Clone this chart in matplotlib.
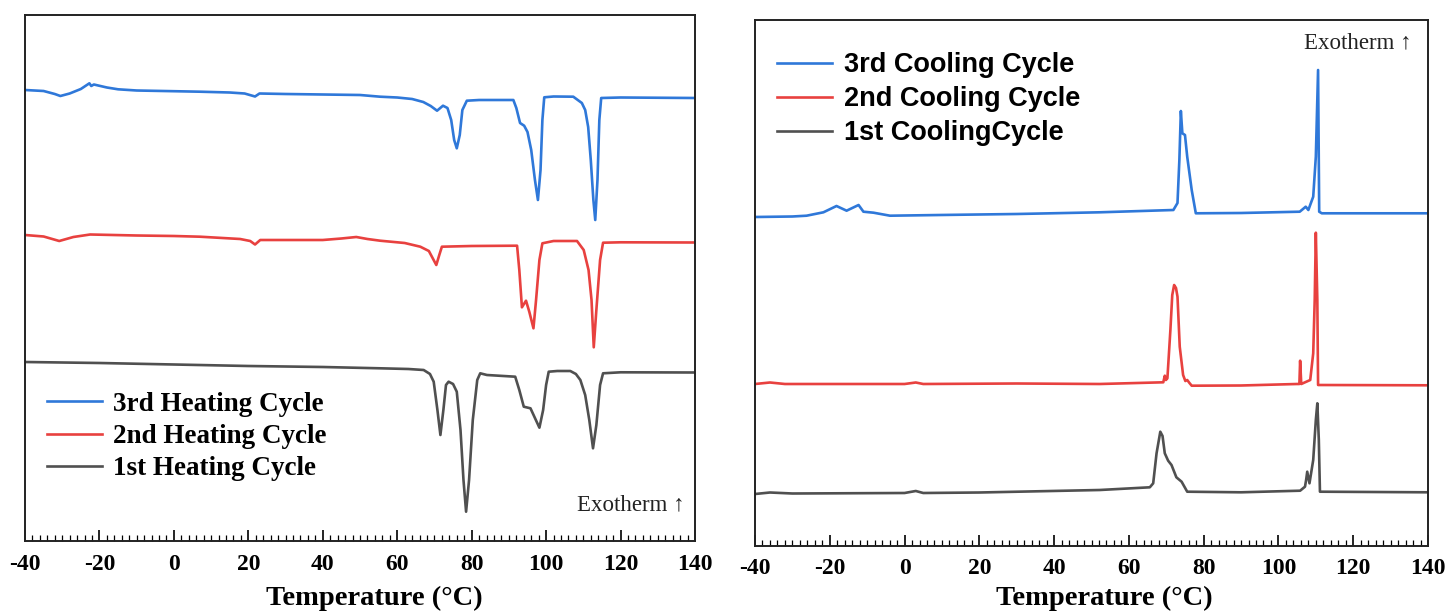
import matplotlib
matplotlib.use("Agg")
import matplotlib.pyplot as plt
from matplotlib.ticker import MultipleLocator

plt.rcParams["axes.unicode_minus"] = False

# ---------------- data (signal in arbitrary units) ----------------
# Left panel: heating cycles
h3_T = [-40, -35, -32, -30.5, -28, -25, -22.7, -22.2, -21.5, -18, -15, -10, 0, 7, 15, 19, 21.8, 23, 30, 40,
        50, 55.4, 60, 64, 67, 69, 70.7, 72.3, 73.5, 74.5, 75.3, 76, 76.8, 77.5, 78.7, 82, 91.2, 92, 93, 94.1,
        95, 96, 97, 97.8, 98.5, 99, 99.5, 102, 107.3, 109.6, 110.5, 111.3, 112, 112.7, 113.2, 113.8, 114.3,
        114.8, 120, 140]
h3_y = [90, 91, 94, 96, 93.5, 89, 83.3, 86, 84.5, 87.5, 89.3, 90.5, 91.2, 91.7, 92.5, 93.5, 96.5, 93.5, 94, 94.5,
        95, 96.7, 97.5, 99, 102, 106, 110.7, 105.7, 108, 120, 140, 148.3, 135, 110, 100.7, 100, 100, 108, 123, 125.7,
        132, 150, 180, 200, 170, 120, 97.3, 96.5, 96.7, 103, 110, 127, 160, 200, 220, 180, 120,
        98, 97.5, 98]

h2_T = [-40, -35, -30.8, -27, -22.5, -10, 0, 7, 17.8, 20.5, 21.8, 23.2, 34, 40, 45, 49, 52, 55.4, 62, 66.2,
        68.5, 70.5, 71.3, 72, 80, 92.2, 92.8, 93.5, 94.6, 95.5, 96.6, 97.3, 98.2, 99, 102, 108.3, 110.1, 111.4,
        112.2, 112.8, 113.5, 114.5, 115.3, 120, 140]
h2_y = [235, 236.5, 241, 237, 234.5, 235.5, 236, 236.7, 239, 241, 244.5, 240, 240, 240, 238.5, 237, 239, 240.7, 243, 246.7,
        251, 265, 255, 246.7, 246, 245.7, 270, 307.3, 300.7, 312, 328.3, 300, 260, 243.3, 241, 241, 250, 270,
        300, 347.3, 310, 260, 242.7, 242.3, 242.5]

h1_T = [-40, -20, 0, 20, 40, 55.4, 63, 67.1, 68.8, 69.8, 70.8, 71.6, 72.4, 73.1, 73.8, 75, 76, 77, 77.8, 78.5,
        79.3, 80.3, 81.5, 82.3, 84.1, 91.7, 92.8, 94, 95.8, 97, 98.2, 99.2, 100, 100.7, 103, 106.5, 108, 109.2,
        110.5, 111.6, 112.6, 113.5, 114.5, 115.3, 120, 140]
h1_y = [362, 363, 364.5, 366, 367, 368.3, 369, 370, 374, 381.7, 410, 435, 410, 385, 381.7, 384, 391.7, 430, 480, 511.7,
        480, 420, 380, 373.3, 375, 376.7, 390, 406.7, 408.3, 418, 427.7, 410, 385, 371.7, 371, 371, 374, 380,
        395, 420, 448.3, 425, 385, 373.3, 372.3, 372.5]

# Right panel: cooling cycles
c3_T = [-40, -30, -26.2, -21.7, -18.2, -15.5, -12.3, -11, -8.3, -3.9, 9.5, 30, 52.2, 71.9, 73, 73.5, 73.9, 74.3,
        75, 75.6, 76.8, 77.9, 90, 105.7, 107.3, 108, 109.3, 110, 110.6, 110.9, 111.6, 140]
c3_y = [217, 216.5, 215.7, 212.3, 206, 210.7, 205, 211.7, 212.7, 215.7, 215, 214, 212.3, 210, 203, 160, 111, 133.3,
        135, 156.7, 190, 213.3, 213, 211.7, 206.7, 210, 196.7, 156.7, 70, 211.7, 213.3, 213.3]

c2_T = [-40, -36, -32, 0, 3, 5, 30, 52.2, 69.2, 69.6, 69.9, 70.3, 71.1, 71.6, 72.1, 72.6, 73, 73.6, 74.5, 75.1,
        75.6, 76.2, 76.8, 90, 104.9, 105.6, 105.8, 106.1, 108.5, 109.3, 109.7, 110.0, 110.4, 110.6, 140]
c2_y = [384, 382.5, 384, 384, 382.5, 384, 383.5, 384, 382.3, 375.7, 380, 378.3, 330, 295, 285, 288, 296.7, 346.7, 375, 381,
        380, 383, 385.7, 385.5, 384, 384, 360.7, 384, 380, 353.3, 300, 232.7, 300, 385, 385.3]

c1_T = [-40, -36, -30, 0, 3, 5, 20, 52.2, 65.6, 66.5, 67.4, 68.4, 69.0, 69.6, 70.5, 71.4, 72.7, 74.1, 75.6, 90,
        105.8, 107.1, 107.4, 107.7, 108.3, 109.3, 110.0, 110.4, 110.8, 111.1, 140]
c1_y = [494, 492.5, 493.5, 493, 491, 493, 492.5, 490, 487.3, 483.3, 453.3, 431.7, 436, 453.3, 460.7, 465, 477.3, 481.7, 491.7, 492.3,
        490.7, 486.7, 480, 471.7, 483.3, 460, 420, 403.3, 440, 491.7, 492.3]

heat_labels = ["3rd Heating Cycle", "2nd Heating Cycle", "1st Heating Cycle"]
cool_labels = ["3rd Cooling Cycle", "2nd Cooling Cycle", "1st CoolingCycle"]
x_ticks = [-40, -20, 0, 20, 40, 60, 80, 100, 120, 140]
x_label = "Temperature (°C)"
note = "Exotherm ↑"

colors = ["#2f78d9", "#e8413f", "#505050"]

# ---------------- figure ----------------
fig = plt.figure(figsize=(14.5, 6.13), dpi=100)
axL = fig.add_axes([25 / 1450, 1 - 541 / 613, 670 / 1450, 526 / 613])
axR = fig.add_axes([755 / 1450, 1 - 546 / 613, 673 / 1450, 526 / 613])

serif = ["Liberation Serif", "DejaVu Serif"]
sans = ["Liberation Sans", "DejaVu Sans"]

def inv(vals):
    return [-v for v in vals]

lw = 1.9
for T, y, c, lab in zip([h3_T, h2_T, h1_T], [h3_y, h2_y, h1_y], colors, heat_labels):
    axL.plot(T, inv(y), color=c, lw=lw, label=lab, solid_joinstyle="round")
for T, y, c, lab in zip([c3_T, c2_T, c1_T], [c3_y, c2_y, c1_y], colors, cool_labels):
    axR.plot(T, inv(y), color=c, lw=lw, label=lab, solid_joinstyle="round")

axL.set_ylim(-541, -15)
axR.set_ylim(-546, -20)

for ax in (axL, axR):
    ax.set_xlim(-40, 140)
    ax.set_xticks(x_ticks)
    ax.xaxis.set_minor_locator(MultipleLocator(2))
    ax.set_yticks([])
    ax.tick_params(axis="x", which="major", direction="in", length=8, width=1.2, pad=9, top=False)
    ax.tick_params(axis="x", which="minor", direction="in", length=4, width=0.9, top=False)
    for lbl in ax.get_xticklabels():
        lbl.set_fontfamily(serif)
        lbl.set_fontweight("bold")
        lbl.set_fontsize(17)
    ax.set_xlabel(x_label, fontfamily=serif, fontweight="bold", fontsize=20.5)
    for s in ax.spines.values():
        s.set_linewidth(1.4)
        s.set_color("#222222")

axL.xaxis.set_label_coords(0.522, -0.085)
axR.xaxis.set_label_coords(0.519, -0.076)

axL.text(0.985, 0.068, note, transform=axL.transAxes, ha="right", va="center",
         fontfamily=serif, fontsize=16.5, color="#222222")
axR.text(0.976, 0.957, note, transform=axR.transAxes, ha="right", va="center",
         fontfamily=serif, fontsize=16.5, color="#222222")

legL = axL.legend(loc="upper left", bbox_to_anchor=(0.0, 0.325), frameon=False,
                  prop={"family": serif, "weight": "bold", "size": 19.5},
                  handlelength=2.05, handletextpad=0.4, labelspacing=0.27, borderaxespad=0.4)
legR = axR.legend(loc="upper left", bbox_to_anchor=(0.0, 0.98), frameon=False,
                  prop={"family": sans, "weight": "bold", "size": 19.5},
                  handlelength=2.05, handletextpad=0.45, labelspacing=0.3, borderaxespad=0.4)

fig.savefig("out.png", dpi=100)
